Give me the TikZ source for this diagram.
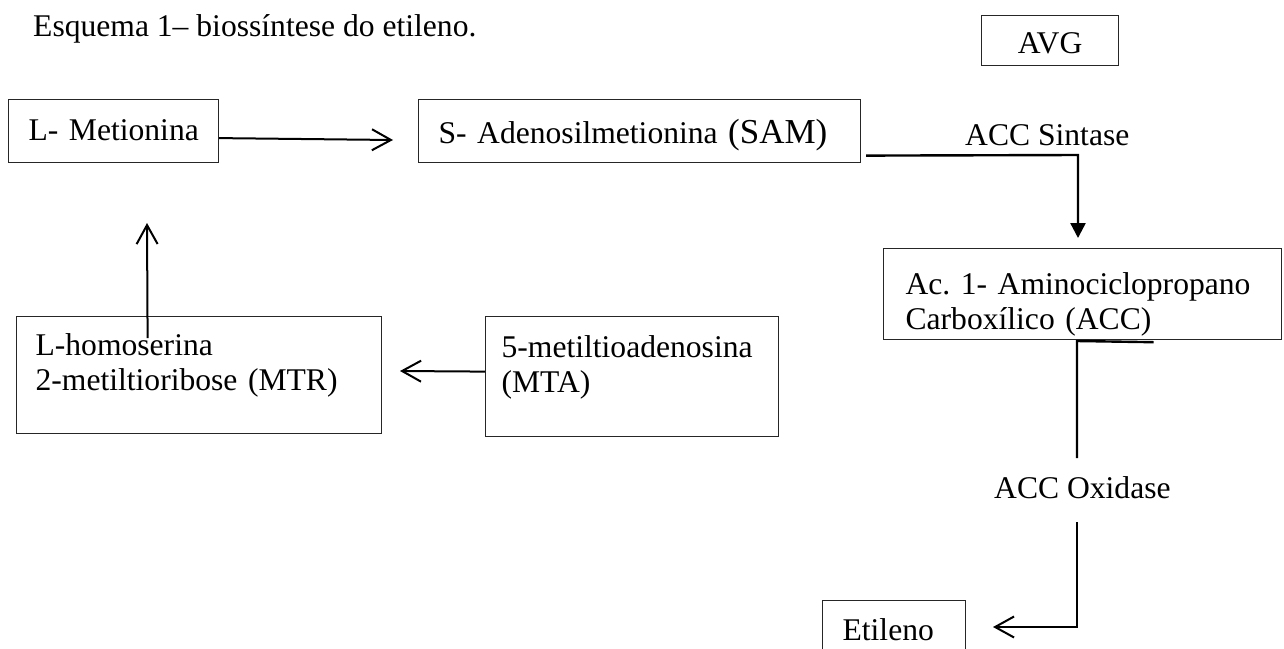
\documentclass[tikz,border=0pt]{standalone}
\usepackage{fontspec}
\setmainfont{Liberation Serif}
\usetikzlibrary{arrows.meta}

\begin{document}
\begin{tikzpicture}[
  x=1pt,
  y=-1pt,
  every node/.style={font=\fontsize{31.6}{35}\selectfont},
  compound/.style={draw=black!85,line width=1.2pt,anchor=north west,align=left,inner ysep=0pt,
    execute at begin node={\frenchspacing\hyphenpenalty=10000}},
  enzyme/.style={anchor=base west,inner sep=0pt},
  flow/.style={draw=black,line width=2pt,-{Straight Barb[length=19pt,width=21pt]}},
  catalysed/.style={draw=black,line width=2.4pt,-{Triangle[length=15pt,width=15pt]}},
  link/.style={draw=black,line width=2.4pt}
]
  \useasboundingbox (0,0) rectangle (1284,648);

  % Caption of the scheme.
  \node[enzyme] (title) at (33,36) {Esquema 1\textendash{} biossíntese do etileno.};

  % Compounds of the pathway.
  \node[compound,inner xsep=20pt,text width=170pt,text height=41pt,text depth=22pt]
    (met) at (8,99) {\mbox{L- Metionina}};
  \node[compound,inner xsep=20pt,text width=402pt,text height=44pt,text depth=19pt]
    (sam) at (418,99) {\mbox{S- Adenosilmetionina {\fontsize{35}{35}\selectfont(SAM)}}};
  \node[compound,align=center,inner xsep=10pt,text width=117pt,text height=38pt,text depth=12pt]
    (avg) at (981,15) {AVG};
  \node[compound,inner xsep=22pt,text width=354pt,text height=46pt,text depth=45pt]
    (acc) at (883,248) {\mbox{Ac. 1- Aminociclopropano}\\\mbox{Carboxílico (ACC)}};
  \node[compound,inner xsep=19pt,text width=327pt,text height=39pt,text depth=78pt]
    (mtr) at (16,316) {\mbox{L-homoserina}\\\mbox{2-metiltioribose (MTR)}};
  \node[compound,inner xsep=16pt,text width=261pt,text height=41pt,text depth=79pt]
    (mta) at (485,316) {\mbox{5-metiltioadenosina}\\(MTA)};
  \node[compound,inner xsep=20pt,text width=103pt,text height=40pt,text depth=25pt]
    (eti) at (822,600) {Etileno};

  % Enzymes written beside the connectors.
  \node[enzyme] (sint) at (965,145) {ACC Sintase};
  \node[enzyme] (oxi) at (994,498) {ACC Oxidase};

  % Tips and bends of the connectors.
  \coordinate (tipSAM) at (393,140);
  \coordinate (tipACC) at (1078,238);
  \coordinate (tipMTR) at (400,371);
  \coordinate (tipMET) at (147,223);
  \coordinate (tipETI) at (993,627);
  \coordinate (bendSAM) at (1078,155);
  \coordinate (bendACC) at (1077,341);
  \coordinate (gapTop) at (1077,458);
  \coordinate (gapBot) at (1077,522);
  \coordinate (bendETI) at (1077,627);

  % Main route.
  \draw[flow] ([yshift=-7pt]met.east) -- (tipSAM);
  \draw[catalysed] ([xshift=5pt,yshift=-24.5pt]sam.east) -- (bendSAM) -- (tipACC);
  \draw[link] ([xshift=71pt,yshift=-2pt]acc.south) -- (bendACC) -- (gapTop);
  \draw[flow] (gapBot) -- (bendETI) -- (tipETI);

  % Recycling of methionine.
  \draw[flow] ([yshift=5pt]mta.west) -- (tipMTR);
  \draw[flow] ([xshift=-51.5pt,yshift=-22pt]mtr.north) -- (tipMET);
\end{tikzpicture}
\end{document}
